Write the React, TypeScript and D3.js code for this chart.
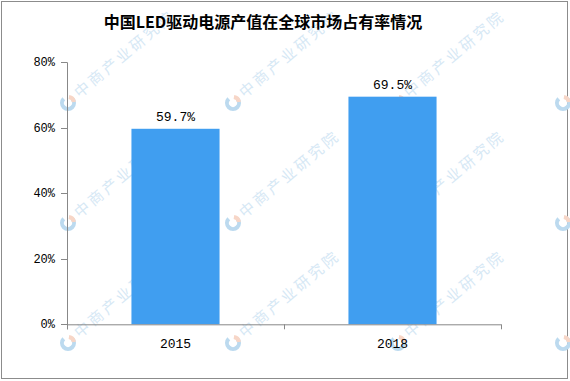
import React from "react";
import * as d3 from "d3";

const title = "中国LED驱动电源产值在全球市场占有率情况";
const categories = ["2015", "2018"];
const values = [59.7, 69.5];
const yTicks = [0, 20, 40, 60, 80];
const watermarkText = "中商产业研究院";
const wmCols = [68, 233, 398, 563];
const wmRows = [103, 223, 343];

const W = 570;
const H = 381;
const M = { left: 67, right: 501, top: 62.3, bottom: 324.3 };

export default function App() {
  const x = d3
    .scaleBand<string>()
    .domain(categories)
    .range([M.left, M.right])
    .paddingInner(0.594)
    .paddingOuter(0.297);
  const y = d3.scaleLinear().domain([0, 80]).range([M.bottom, M.top]);
  const bandStep = (M.right - M.left) / categories.length;
  const mono = "'Liberation Mono', 'DejaVu Sans Mono', monospace";

  const wm: { x: number; y: number; txt: boolean }[] = [];
  wmCols.forEach((cx, ci) =>
    wmRows.forEach((cy) => wm.push({ x: cx, y: cy, txt: ci < wmCols.length - 1 }))
  );

  const arc = d3.arc();
  const blueArc = arc({ innerRadius: 4, outerRadius: 8, startAngle: Math.PI * 0.25, endAngle: Math.PI * 1.75 }) as string;
  const orangeArc = arc({ innerRadius: 4, outerRadius: 8, startAngle: -Math.PI * 0.2, endAngle: Math.PI * 0.2 }) as string;

  return (
    <svg
      width={W}
      height={H}
      style={{ position: "absolute", left: 0, top: 0, background: "#fff" }}
    >
      <rect x={1.5} y={1.5} width={566} height={377} fill="#fff" stroke="#8c8c8c" strokeWidth={1} />

      {/* watermarks */}
      <g>
        {wm.map((p, i) => (
          <g key={i} transform={`translate(${p.x},${p.y})`}>
            <path d={blueArc} fill="#bcdaef" />
            <path d={orangeArc} fill="#f7d6c7" transform="rotate(45)" />
            {p.txt && (
              <text
                x={12}
                y={0}
                transform="rotate(-40)"
                fontFamily="'Noto Sans CJK SC', sans-serif"
                fontSize={15}
                letterSpacing={3}
                fill="#d6e8f5"
                dominantBaseline="middle"
              >
                {watermarkText}
              </text>
            )}
          </g>
        ))}
      </g>

      <text
        x={263}
        y={28}
        textAnchor="middle"
        fontFamily="'Noto Sans CJK SC', sans-serif"
        fontWeight="bold"
        fontSize={16}
        fill="#000"
      >
        {title}
      </text>

      {/* bars */}
      {categories.map((c, i) => (
        <rect
          key={c}
          x={x(c)}
          y={y(values[i])}
          width={x.bandwidth()}
          height={M.bottom - y(values[i])}
          fill="#409ef0"
        />
      ))}

      {/* value labels */}
      {categories.map((c, i) => (
        <text
          key={c}
          x={(x(c) as number) + x.bandwidth() / 2}
          y={y(values[i]) - 8}
          textAnchor="middle"
          fontFamily={mono}
          fontSize={13}
          fill="#000"
        >
          {values[i].toFixed(1)}%
        </text>
      ))}

      {/* y axis */}
      <line x1={M.left + 0.5} x2={M.left + 0.5} y1={M.top} y2={M.bottom + 5} stroke="#888" />
      {yTicks.map((t) => (
        <g key={t}>
          <line x1={M.left - 6} x2={M.left} y1={Math.round(y(t)) + 0.5} y2={Math.round(y(t)) + 0.5} stroke="#888" />
          <text
            x={M.left - 12}
            y={y(t) + 4}
            textAnchor="end"
            fontFamily={mono}
            fontSize={12}
            fill="#000"
          >
            {t}%
          </text>
        </g>
      ))}

      {/* x axis */}
      <line x1={M.left} x2={M.right} y1={M.bottom + 0.5} y2={M.bottom + 0.5} stroke="#888" />
      {d3.range(categories.length + 1).map((i) => (
        <line
          key={i}
          x1={Math.round(M.left + i * bandStep) + 0.5}
          x2={Math.round(M.left + i * bandStep) + 0.5}
          y1={M.bottom}
          y2={M.bottom + 5}
          stroke="#888"
        />
      ))}
      {categories.map((c) => (
        <text
          key={c}
          x={(x(c) as number) + x.bandwidth() / 2}
          y={348}
          textAnchor="middle"
          fontFamily={mono}
          fontSize={13}
          fill="#000"
        >
          {c}
        </text>
      ))}
    </svg>
  );
}
